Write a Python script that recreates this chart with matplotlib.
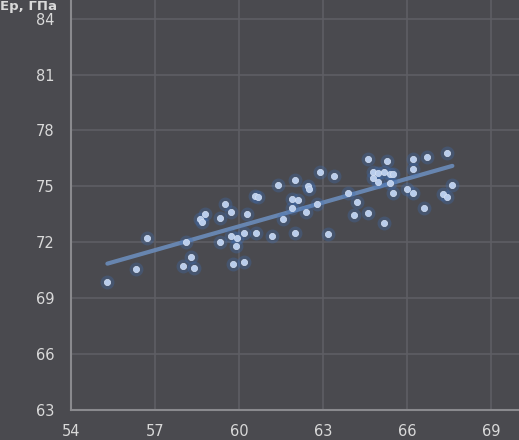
import numpy as np
import matplotlib
matplotlib.use("Agg")
from matplotlib import pyplot as plt

# values: x axis and Ep, GPa
xs = [55.30, 56.31, 56.70, 58.10, 58.29, 57.99, 58.39, 58.61, 58.69, 58.79,
      59.50, 59.70, 59.31, 60.29, 59.31, 59.70, 59.92, 59.89, 60.19, 59.80,
      60.19, 60.57, 60.69, 60.61, 61.17, 61.38, 61.58, 61.88, 62.10, 61.88,
      62.00, 62.00, 62.39, 62.48, 62.50, 62.80, 62.89, 63.40, 63.19, 63.90,
      64.20, 64.11, 64.60, 64.60, 65.18, 65.30, 64.80, 64.98, 65.18, 65.39,
      65.51, 64.80, 64.98, 65.39, 65.49, 66.00, 66.20, 66.20, 66.20, 66.71,
      67.42, 67.62, 67.30, 67.42, 66.61]
ys = [69.87, 70.55, 72.25, 72.04, 71.23, 70.73, 70.64, 73.23, 73.11, 73.54,
      74.07, 73.64, 73.32, 73.54, 72.04, 72.34, 72.21, 71.82, 72.52, 70.86,
      70.94, 74.48, 74.45, 72.52, 72.34, 75.05, 73.23, 74.34, 74.25, 73.86,
      75.34, 72.52, 73.64, 75.02, 74.84, 74.07, 75.77, 75.55, 72.43, 74.66,
      74.16, 73.45, 73.55, 76.45, 73.06, 76.36, 75.79, 75.73, 75.77, 75.68,
      75.64, 75.47, 75.23, 75.16, 74.66, 74.84, 74.66, 76.48, 75.95, 76.59,
      76.77, 75.05, 74.57, 74.45, 73.84]

xticks = [54, 57, 60, 63, 66, 69]
yticks = [63, 66, 69, 72, 75, 78, 81, 84]

bg = '#4a4a4f'
txt = '#d9d9d9'

fig = plt.figure(figsize=(5.19, 4.40), dpi=100, facecolor=bg)
ax = fig.add_axes([71 / 519, 30 / 440, 448 / 519, 410 / 440], facecolor=bg)

ax.set_xlim(54, 70)
ax.set_ylim(63, 85)
ax.set_xticks(xticks)
ax.set_yticks(yticks)
ax.grid(True, color='#5e5e64', lw=1.2)
ax.set_axisbelow(True)

for s in ['top', 'right']:
    ax.spines[s].set_visible(False)
for s in ['left', 'bottom']:
    ax.spines[s].set_color('#8a8a8e')
    ax.spines[s].set_linewidth(1.5)

ax.tick_params(axis='both', length=0, colors=txt, labelsize=10.5)
ax.tick_params(axis='y', pad=12)
ax.tick_params(axis='x', pad=10)

# linear trend
k, b = np.polyfit(xs, ys, 1)
lx = np.array([min(xs), max(xs)])
ax.plot(lx, k * lx + b, color='#6b8cba', lw=3, alpha=0.9, solid_capstyle='round', zorder=2)

# points with a soft glow
ax.scatter(xs, ys, s=100, color='#3f6fb8', alpha=0.3, lw=0, zorder=3)
ax.scatter(xs, ys, s=20, color='#b9cdec', edgecolor='#d6e2f5', lw=0.5, zorder=4)

fig.text(0.0, 1 - 10 / 440, 'Ep, ГПа', color=txt, fontsize=9.5,
         fontweight='bold', va='baseline', ha='left')

fig.savefig('out.png', dpi=100, facecolor=bg)
